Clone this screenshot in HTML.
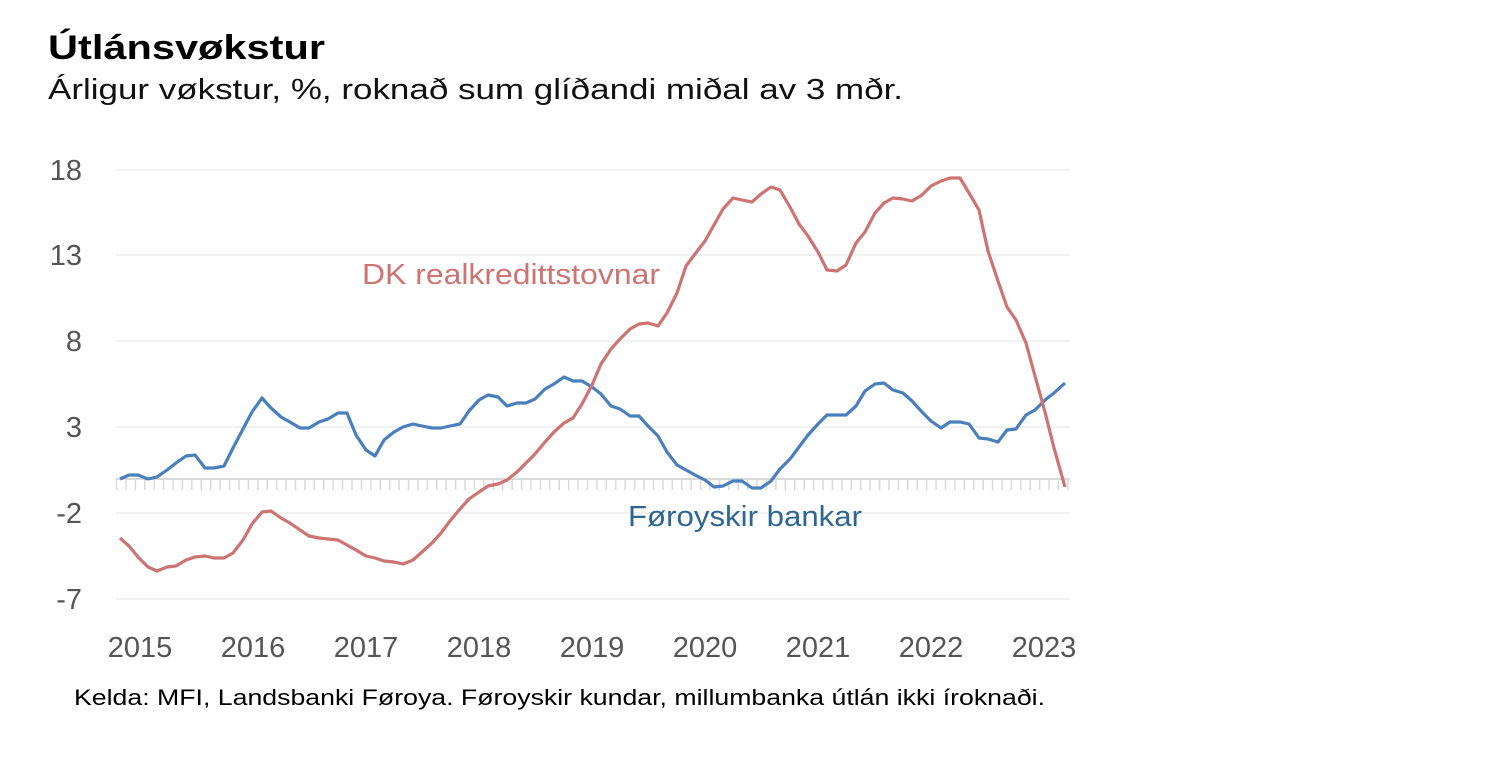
<!DOCTYPE html>
<html><head><meta charset="utf-8"><style>
body{margin:0;background:#fff;width:1504px;height:770px;overflow:hidden;font-family:"Liberation Sans","DejaVu Sans",sans-serif}
</style></head><body>
<svg width="1504" height="770" xmlns="http://www.w3.org/2000/svg" font-family="Liberation Sans, DejaVu Sans, sans-serif">
<text x="48" y="59" font-size="34" font-weight="bold" fill="#000" textLength="277" lengthAdjust="spacingAndGlyphs">Útlánsvøkstur</text>
<text x="48" y="99" font-size="29" fill="#111" textLength="855" lengthAdjust="spacingAndGlyphs">Árligur vøkstur, %, roknað sum glíðandi miðal av 3 mðr.</text>
<g stroke="#e6e6e6" stroke-width="1">
<line x1="116" x2="1070" y1="170" y2="170"/><line x1="116" x2="1070" y1="255" y2="255"/>
<line x1="116" x2="1070" y1="341" y2="341"/><line x1="116" x2="1070" y1="427" y2="427"/>
<line x1="116" x2="1070" y1="513" y2="513"/><line x1="116" x2="1070" y1="599" y2="599"/>
</g>
<line x1="116" x2="1070" y1="479" y2="479" stroke="#d9d9d9" stroke-width="2"/>
<g id="ticks" stroke="#d9d9d9" stroke-width="1.5"></g>
<g font-size="29" fill="#555" text-anchor="end">
<text x="82" y="180">18</text><text x="82" y="265">13</text><text x="82" y="351">8</text>
<text x="82" y="437">3</text><text x="82" y="523">-2</text><text x="82" y="609">-7</text>
</g>
<g font-size="29" fill="#555" text-anchor="middle">
<text x="140" y="657">2015</text><text x="253" y="657">2016</text><text x="366" y="657">2017</text>
<text x="479" y="657">2018</text><text x="592" y="657">2019</text><text x="705" y="657">2020</text>
<text x="818" y="657">2021</text><text x="931" y="657">2022</text><text x="1044" y="657">2023</text>
</g>
<polyline fill="none" stroke="#4a7fbd" stroke-width="3.2" stroke-linejoin="round" points="120,479 129,475 138,475 148,479 157,477 167,470 176,463 186,456 195,455 205,468 214,468 224,466 233,448 243,429 252,412 262,398 271,408 281,417 290,422 300,428 309,428 319,422 328,419 338,413 347,413 356,435 366,450 375,456 384,440 394,432 403,427 413,424 422,426 432,428 441,428 450,426 460,424 469,411 479,400 488,395 498,397 507,406 517,403 526,403 535,399 545,389 554,384 564,377 573,381 582,381 592,387 601,394 611,406 620,409 630,416 639,416 648,426 658,436 667,452 677,465 686,470 695,475 705,480 714,487 723,486 733,481 742,481 752,488 761,488 771,481 780,469 790,459 799,447 808,435 818,424 827,415 837,415 846,415 856,406 865,391 875,384 884,383 893,390 903,393 912,401 922,412 931,421 941,428 950,422 960,422 969,424 979,438 988,439 998,442 1007,430 1016,429 1026,415 1035,410 1045,400 1054,393 1065,383"/>
<polyline fill="none" stroke="#cd7372" stroke-width="3.2" stroke-linejoin="round" points="120,538 129,546 138,557 148,567 157,571 167,567 176,566 186,560 195,557 205,556 214,558 224,558 233,553 243,540 252,524 262,512 271,511 281,518 290,523 300,530 309,536 319,538 328,539 338,540 347,545 356,550 366,556 375,558 384,561 394,562 403,564 413,560 422,552 432,543 441,533 450,521 460,509 469,499 479,492 488,486 498,484 507,480 517,472 526,463 535,454 545,442 554,432 564,423 573,418 582,404 592,385 601,364 611,349 620,339 630,329 639,324 648,323 658,326 667,313 677,293 686,266 695,254 705,241 714,225 723,209 733,198 742,200 752,202 761,194 771,187 780,190 790,207 799,224 808,236 818,252 827,270 837,271 846,265 856,243 865,232 875,213 884,203 893,198 903,199 912,201 922,195 931,186 941,181 950,178 960,178 969,193 979,210 988,251 998,281 1007,307 1016,320 1026,343 1035,376 1045,412 1054,448 1065,487"/>
<text x="362" y="284" font-size="29" fill="#cd7372" textLength="298" lengthAdjust="spacingAndGlyphs">DK realkredittstovnar</text>
<text x="628" y="526" font-size="29" fill="#2f6592" textLength="234" lengthAdjust="spacingAndGlyphs">Føroyskir bankar</text>
<text x="74" y="705" font-size="22" fill="#000" textLength="971" lengthAdjust="spacingAndGlyphs">Kelda: MFI, Landsbanki Føroya. Føroyskir kundar, millumbanka útlán ikki íroknaði.</text>
</svg>
<script>
var g=document.getElementById('ticks'),s='';
for(var x=116.5;x<=1068;x+=9.42){s+='<line x1="'+x+'" x2="'+x+'" y1="479" y2="490"/>';}
g.innerHTML=s;
</script>
</body></html>
